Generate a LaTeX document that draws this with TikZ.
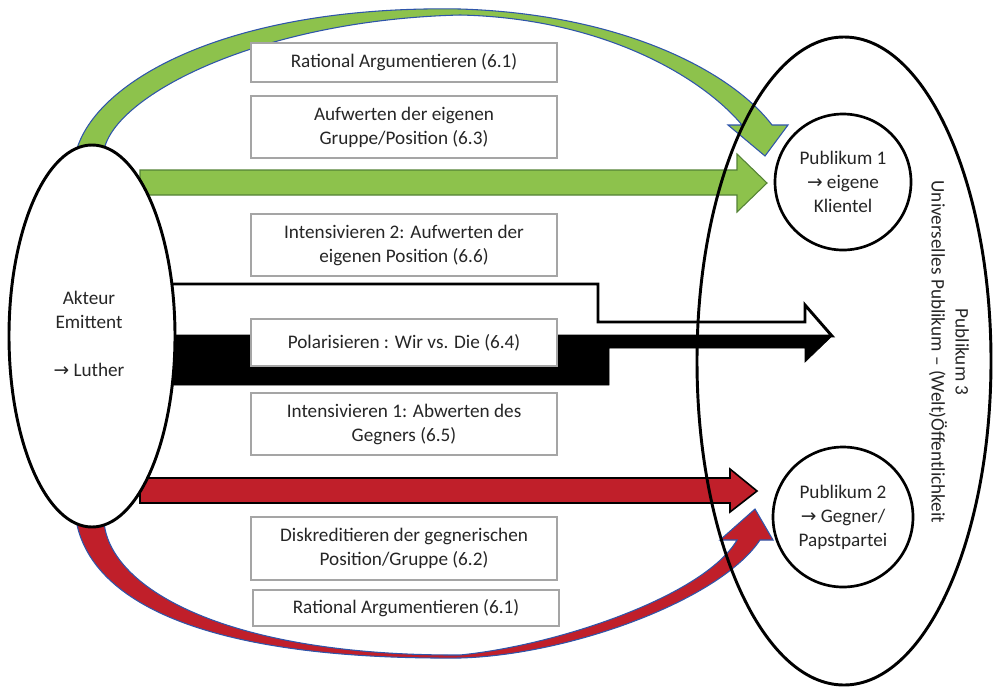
\documentclass[tikz,border=0pt]{standalone}
\usepackage{fontspec}
\setmainfont{Carlito}
\newfontfamily\arrowfont{DejaVu Sans}
\usetikzlibrary{shapes.geometric}
\definecolor{grn}{RGB}{141,194,76}
\definecolor{grnline}{RGB}{84,130,53}
\definecolor{rd}{RGB}{192,31,42}
\definecolor{bl}{RGB}{47,85,170}
\definecolor{txt}{RGB}{38,38,38}
\definecolor{boxline}{RGB}{165,165,165}
\newcommand\rarrow{{\arrowfont\fontsize{14}{14}\selectfont →}}
\begin{document}
\begin{tikzpicture}[x=0.75pt,y=-0.75pt,
  lbl/.style={font=\fontsize{14.4}{18}\selectfont, text=txt, align=center},
  tbox/.style={lbl, draw=boxline, line width=0.8pt, fill=white, minimum width=229.5pt, inner sep=0pt},
  curvedgreen/.style={fill=grn, draw=bl, line width=0.8pt, line join=miter},
  curvedred/.style={fill=rd, draw=bl, line width=0.8pt, line join=miter},
  straightgreen/.style={fill=grn, draw=grnline, line width=0.8pt, line join=miter},
  straightred/.style={fill=rd, draw=black, line width=1.2pt, line join=miter},
  whitearrow/.style={fill=white, draw=black, line width=2.2pt, line join=miter},
  blackarrow/.style={fill=black, draw=black, line width=0.5pt, line join=miter},
  bigellipse/.style={ellipse, draw=black, line width=2.2pt, inner sep=0pt},
  pubcircle/.style={circle, draw=black, line width=2pt, fill=white, inner sep=0pt, lbl}
]
\useasboundingbox (0,0) rectangle (995,686);

% curved green arrow (top)
\filldraw[curvedgreen] (76,152) .. controls (95,80) and (230,5) .. (460,9)
  .. controls (620,14) and (730,70) .. (772,125) -- (788,125) -- (765,156)
  -- (728,125) -- (742,125) .. controls (700,75) and (600,18) .. (460,15)
  .. controls (260,20) and (115,95) .. (104,150) -- cycle;

% straight green arrow
\filldraw[straightgreen] (140,170) -- (737,170) -- (737,154) -- (767,183)
  -- (737,212) -- (737,195) -- (140,195) -- cycle;

% white bent arrow
\filldraw[whitearrow] (150,284) -- (598,284) -- (598,322) -- (805,322)
  -- (805,305) -- (832,336) -- (150,336) -- cycle;
% black arrow
\filldraw[blackarrow] (150,336) -- (832,336) -- (805,362) -- (805,348)
  -- (609,348) -- (609,385) -- (150,385) -- cycle;

% straight red arrow
\filldraw[straightred] (140,478) -- (730,478) -- (730,469) -- (757,491)
  -- (730,512) -- (730,503) -- (140,503) -- cycle;

% curved red arrow (bottom)
\filldraw[curvedred] (76,520) .. controls (90,600) and (200,660) .. (460,658)
  .. controls (570,655) and (720,600) .. (760,540) -- (773,540) -- (755,509)
  -- (720,540) -- (737,540) .. controls (705,595) and (560,645) .. (460,655)
  .. controls (230,656) and (110,590) .. (104,522) -- cycle;

% text boxes
\node[tbox, minimum height=29.25pt] (b1) at (404,62.5) {Rational Argumentieren (6.1)};
\node[tbox, minimum height=46.5pt] (b2) at (404,127) {Aufwerten der eigenen\\Gruppe/Position (6.3)};
\node[tbox, minimum height=46.5pt] (b3) at (404,245) {Intensivieren 2: Aufwerten der\\eigenen Position (6.6)};
\node[tbox, minimum height=35.25pt] (b4) at (404,342.5) {Polarisieren : Wir vs. Die (6.4)};
\node[tbox, minimum height=46.5pt] (b5) at (404,424) {Intensivieren 1: Abwerten des\\Gegners (6.5)};
\node[tbox, minimum height=47.25pt] (b6) at (404,548.5) {Diskreditieren der gegnerischen\\Position/Gruppe (6.2)};
\node[tbox, minimum height=27pt] (b7) at (406,608) {Rational Argumentieren (6.1)};

% actor ellipse
\node[ellipse, draw=black, line width=2.2pt, fill=white, minimum width=124.5pt,
  minimum height=286.5pt, inner sep=0pt] (akteur) at (92,336) {};
\node[lbl] (akteurtext) at (89,334) {Akteur\\Emittent\\\strut\\\rarrow\ Luther};

% big audience ellipse
\node[bigellipse, minimum width=220.5pt, minimum height=486pt] (pub3) at (844,361) {};
\node[lbl, rotate=-90] (pub3text) at (949,352) {Publikum 3\\Universelles Publikum – (Welt)Öffentlichkeit};

% audience circles
\node[pubcircle, minimum size=102pt] (pub1) at (843,182) {Publikum 1\\\rarrow\ eigene\\Klientel};
\node[pubcircle, minimum size=105pt] (pub2) at (843,517) {Publikum 2\\\rarrow\ Gegner/\\Papstpartei};
\end{tikzpicture}
\end{document}
